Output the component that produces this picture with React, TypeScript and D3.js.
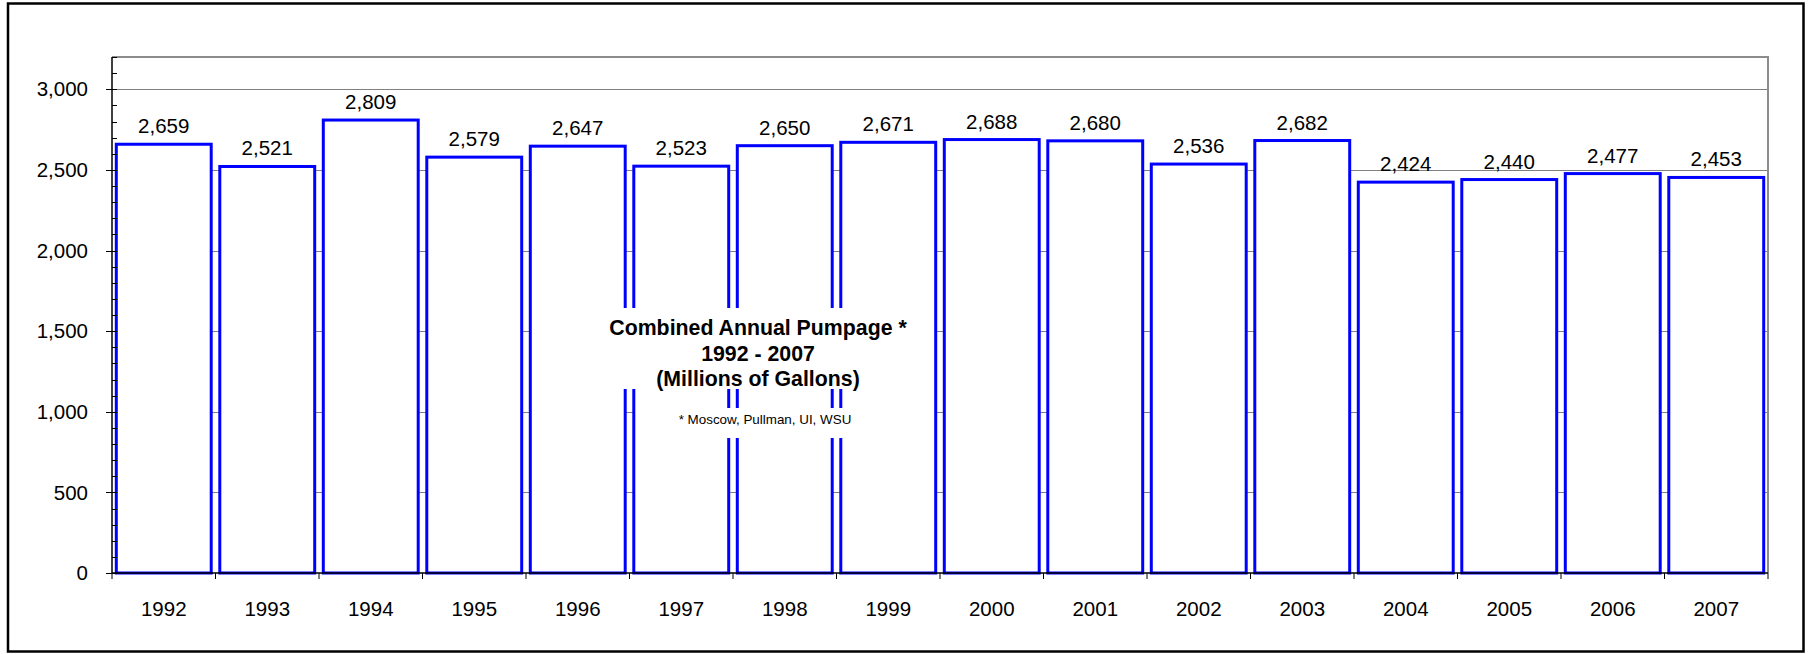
import React from "react";
import * as d3 from "d3";

const years = ["1992","1993","1994","1995","1996","1997","1998","1999","2000","2001","2002","2003","2004","2005","2006","2007"];
const pumpage = [2659, 2521, 2809, 2579, 2647, 2523, 2650, 2671, 2688, 2680, 2536, 2682, 2424, 2440, 2477, 2453];
const majorTicks = [0, 500, 1000, 1500, 2000, 2500, 3000];
const titleLines = ["Combined Annual Pumpage *", "1992 - 2007", "(Millions of Gallons)"];
const footnote = "* Moscow, Pullman, UI, WSU";

const W = 1810, H = 654;
const plot = { left: 112, right: 1768, top: 57, bottom: 573 };
const font = "Arial, 'Liberation Sans', sans-serif";

export default function App() {
  const x = d3.scaleBand<string>().domain(years).range([plot.left, plot.right]).paddingInner(0.083).paddingOuter(0.0415);
  const y = d3.scaleLinear().domain([0, 3200]).range([plot.bottom, plot.top]);
  const minorTicks = d3.range(0, 3201, 100);
  const step = (plot.right - plot.left) / years.length;
  const fmt = d3.format(",");

  return (
    <svg width={W} height={H} style={{ position: "absolute", left: 0, top: 0, background: "#fff" }} fontFamily={font}>
      <rect x={0} y={0} width={W} height={H} fill="#fff" />
      <rect x={8} y={3.5} width={1795.5} height={648} fill="none" stroke="#000" strokeWidth={2.5} />
      {majorTicks.filter(t => t > 0).map(t => (
        <line key={"g" + t} x1={plot.left} x2={plot.right} y1={Math.round(y(t)) + 0.5} y2={Math.round(y(t)) + 0.5} stroke="#808080" strokeWidth={1} />
      ))}
      <polyline points={`${plot.left},${plot.top} ${plot.right},${plot.top} ${plot.right},${plot.bottom}`} fill="none" stroke="#8c8c8c" strokeWidth={2} />
      {years.map((yr, i) => (
        <rect key={yr} x={x(yr)!} y={y(pumpage[i])} width={x.bandwidth()} height={plot.bottom - y(pumpage[i])} fill="#fff" stroke="#0000ff" strokeWidth={3} />
      ))}
      {years.map((yr, i) => (
        <text key={"l" + yr} x={x(yr)! + x.bandwidth() / 2} y={y(pumpage[i]) - 11} textAnchor="middle" fontSize={20.5} fill="#000">{fmt(pumpage[i])}</text>
      ))}
      <line x1={plot.left} x2={plot.left} y1={plot.top} y2={plot.bottom} stroke="#000" strokeWidth={1.5} />
      {minorTicks.map(t => (
        <line key={"m" + t} x1={plot.left} x2={plot.left + 5} y1={Math.round(y(t)) + 0.5} y2={Math.round(y(t)) + 0.5} stroke="#000" strokeWidth={1} />
      ))}
      {majorTicks.map(t => (
        <g key={"y" + t}>
          <line x1={plot.left - 6} x2={plot.left} y1={Math.round(y(t)) + 0.5} y2={Math.round(y(t)) + 0.5} stroke="#000" strokeWidth={1} />
          <text x={88} y={y(t)} dy="0.35em" textAnchor="end" fontSize={20.5} fill="#000">{fmt(t)}</text>
        </g>
      ))}
      <line x1={plot.left} x2={plot.right} y1={plot.bottom} y2={plot.bottom} stroke="#000" strokeWidth={1.5} />
      {d3.range(years.length + 1).map(i => (
        <line key={"xt" + i} x1={plot.left + i * step} x2={plot.left + i * step} y1={plot.bottom} y2={plot.bottom + 6} stroke="#000" strokeWidth={1} />
      ))}
      {years.map(yr => (
        <text key={"x" + yr} x={x(yr)! + x.bandwidth() / 2} y={616} textAnchor="middle" fontSize={20.5} fill="#000">{yr}</text>
      ))}
      <rect x={603} y={308} width={309} height={81} fill="#fff" />
      {titleLines.map((t, i) => (
        <text key={"t" + i} x={758} y={335 + i * 25.5} textAnchor="middle" fontSize={21.3} fontWeight="bold" fill="#000">{t}</text>
      ))}
      <rect x={674} y={408} width={184} height={30} fill="#fff" />
      <text x={765} y={424} textAnchor="middle" fontSize={13.4} fill="#000">{footnote}</text>
    </svg>
  );
}
